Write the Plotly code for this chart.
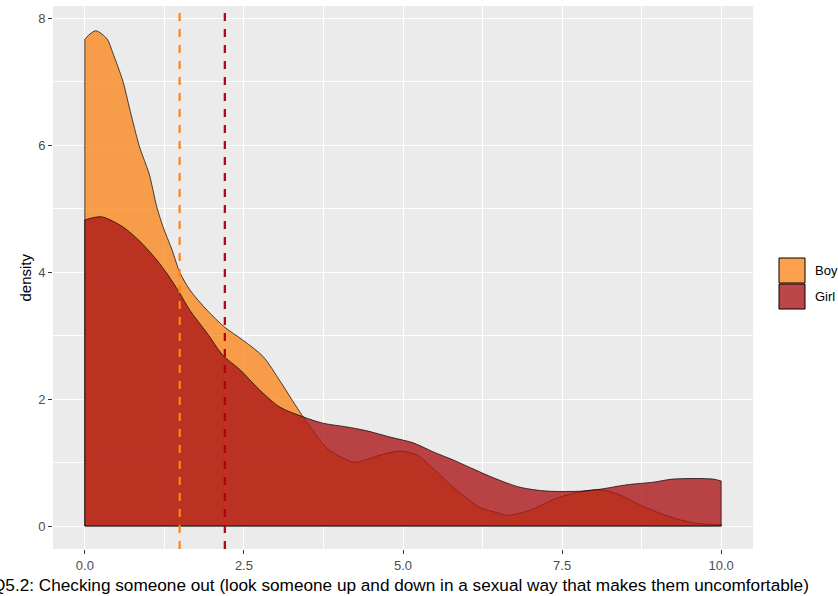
import plotly.graph_objects as go

# ---- data ----
boy_x = [0, 0.17, 0.35, 0.44, 0.6, 0.71, 0.86, 1.01, 1.13, 1.23, 1.37, 1.49, 1.65, 1.92,
         2.2, 2.48, 2.8, 3.07, 3.26, 3.43, 3.58, 3.8, 4.06, 4.25, 4.43, 4.69, 4.95, 5.22,
         5.47, 5.79, 6.0, 6.21, 6.48, 6.64, 7.0, 7.42, 7.78, 8.1, 8.41, 8.73, 9.15, 9.56, 10]
boy_y = [7.67, 7.8, 7.67, 7.45, 7.0, 6.55, 5.97, 5.55, 5.03, 4.71, 4.35, 4.0, 3.72, 3.4,
         3.13, 2.93, 2.67, 2.28, 1.98, 1.72, 1.51, 1.23, 1.07, 1.0, 1.05, 1.13, 1.18, 1.12,
         0.91, 0.61, 0.44, 0.29, 0.21, 0.17, 0.25, 0.44, 0.54, 0.57, 0.49, 0.33, 0.16, 0.05, 0.02]

girl_x = [0, 0.26, 0.6, 0.88, 1.13, 1.31, 1.49, 1.65, 1.92, 2.17, 2.44, 2.75, 3.07, 3.43,
          3.74, 4.12, 4.43, 4.8, 5.16, 5.47, 5.79, 6.1, 6.42, 6.84, 7.26, 7.83, 8.1, 8.52,
          8.93, 9.25, 9.87, 10]
girl_y = [4.82, 4.87, 4.71, 4.47, 4.19, 3.95, 3.67, 3.4, 3.04, 2.69, 2.46, 2.14, 1.87, 1.72,
          1.62, 1.56, 1.5, 1.40, 1.31, 1.17, 1.04, 0.9, 0.76, 0.61, 0.55, 0.55, 0.58, 0.65,
          0.69, 0.74, 0.74, 0.71]

boy_mean = 1.49
girl_mean = 2.2

groups = ["Boy", "Girl"]
x_ticks = [0, 2.5, 5, 7.5, 10]
x_tick_labels = ["0.0", "2.5", "5.0", "7.5", "10.0"]
y_ticks = [0, 2, 4, 6, 8]
y_tick_labels = ["0", "2", "4", "6", "8"]
x_title = "Q5.2: Checking someone out (look someone up and down in a sexual way that makes them uncomfortable)"
y_title = "density"

# ---- styles ----
W, H = 838, 596
L, R, T, B = 53, 85, 6, 47
fills = {"Boy": "rgba(250,136,31,0.8)", "Girl": "rgba(171,24,26,0.8)"}
line_cols = {"Boy": "#FF8411", "Girl": "#B3000C"}
FONT = "Liberation Sans, Arial, sans-serif"
OUTLINE = dict(color="black", width=0.7)

fig = go.Figure()
for name, xs, ys in [("Boy", boy_x, boy_y), ("Girl", girl_x, girl_y)]:
    fig.add_trace(go.Scatter(
        x=xs, y=ys, mode="lines", fill="tozeroy", fillcolor=fills[name],
        line=dict(color="black", width=0.7, shape="spline", smoothing=0.8),
        name=name, showlegend=False, hoverinfo="skip"))
    # closing edges of the density polygon (left side, bottom, right side)
    fig.add_trace(go.Scatter(
        x=[xs[0], xs[0], xs[-1], xs[-1]], y=[ys[0], 0, 0, ys[-1]],
        mode="lines", line=OUTLINE, showlegend=False, hoverinfo="skip"))

for name, m in [("Boy", boy_mean), ("Girl", girl_mean)]:
    fig.add_shape(type="line", xref="x", yref="paper", x0=m, x1=m, y0=0, y1=1,
                  line=dict(color=line_cols[name], width=2.2, dash="8px,8px"))

# manual legend
pw = W - L - R
ph = H - T - B
def pxx(v):
    return (v - L) / pw
def pyy(v):
    return (H - B - v) / ph

key_tops = [258, 284]
for name, top in zip(groups, key_tops):
    fig.add_shape(type="rect", xref="paper", yref="paper",
                  x0=pxx(779), x1=pxx(805), y0=pyy(top + 25), y1=pyy(top),
                  fillcolor=fills[name], line=dict(color="black", width=1))
    fig.add_annotation(xref="paper", yref="paper", x=pxx(813), y=pyy(top + 12.5),
                       text=name, showarrow=False, xanchor="left", yanchor="middle",
                       font=dict(family=FONT, size=13, color="black"))

fig.add_annotation(xref="paper", yref="paper", x=pxx(400), y=pyy(585), text=x_title,
                   showarrow=False, xanchor="center", yanchor="middle",
                   font=dict(family=FONT, size=17.2, color="black"))
fig.add_annotation(xref="paper", yref="paper", x=pxx(25), y=0.5, text=y_title,
                   showarrow=False, textangle=-90, xanchor="center", yanchor="middle",
                   font=dict(family=FONT, size=15, color="black"))

fig.update_layout(
    width=W, height=H, margin=dict(l=L, r=R, t=T, b=B),
    paper_bgcolor="white", plot_bgcolor="#EBEBEB",
    font=dict(family=FONT),
    showlegend=False,
)
fig.update_xaxes(range=[-0.5, 10.5], tickvals=x_ticks, ticktext=x_tick_labels,
                 showgrid=True, gridcolor="white", gridwidth=1.2, zeroline=False,
                 ticks="outside", ticklen=4, tickcolor="#333333", tickwidth=1,
                 tickfont=dict(family=FONT, size=13, color="#4D4D4D"),
                 minor=dict(dtick=1.25, tick0=0, showgrid=True, gridcolor="white", gridwidth=0.5),
                 showline=False)
fig.update_yaxes(range=[-0.362, 8.19], tickvals=y_ticks, ticktext=y_tick_labels,
                 showgrid=True, gridcolor="white", gridwidth=1.2, zeroline=False,
                 ticks="outside", ticklen=4, tickcolor="#333333", tickwidth=1,
                 tickfont=dict(family=FONT, size=13, color="#4D4D4D"),
                 minor=dict(dtick=1, tick0=0, showgrid=True, gridcolor="white", gridwidth=0.5),
                 showline=False)

fig.write_html("out.html", config={"displayModeBar": False},
               post_script="document.body.style.margin='0';document.body.style.overflow='hidden';")
